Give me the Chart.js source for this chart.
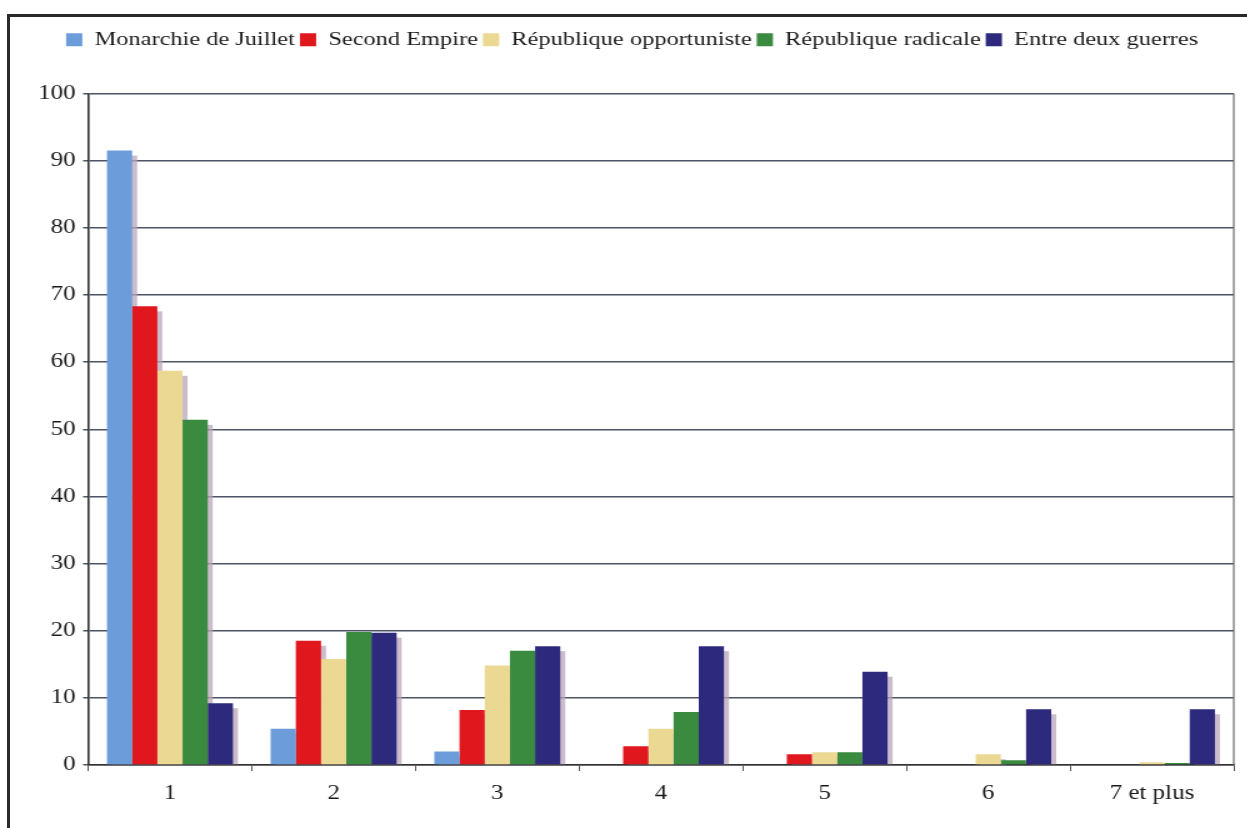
<!DOCTYPE html>
<html>
<head>
<meta charset="utf-8">
<script src="https://cdn.jsdelivr.net/npm/chart.js@4"></script>
<style>
  body { margin: 0; background: #fff; overflow: hidden; }
  #frame { position: absolute; left: 7px; top: 14px; width: 1300px; height: 900px; border: 3px solid #2a2a2a; }
  /* le document source est un scan légèrement étiré en largeur */
  #wrap { position: absolute; left: 0; top: 0; transform: scaleX(1.25); transform-origin: 0 0; }
</style>
</head>
<body>
<div id="frame"></div>
<div id="wrap"><canvas id="chart" width="998" height="828"></canvas></div>
<script>
// Catégories (nombre de ...) et séries
const categories = ['1', '2', '3', '4', '5', '6', '7 et plus'];
const seriesNames = ['Monarchie de Juillet', 'Second Empire', 'République opportuniste', 'République radicale', 'Entre deux guerres'];
const monarchie = [91.5, 5.4, 2.0, 0.1, 0, 0, 0];
const secondEmpire = [68.3, 18.5, 8.2, 2.8, 1.6, 0, 0];
const repOpportuniste = [58.7, 15.8, 14.8, 5.4, 1.9, 1.6, 0.4];
const repRadicale = [51.4, 19.8, 17.0, 7.9, 1.9, 0.7, 0.3];
const entreDeuxGuerres = [9.2, 19.7, 17.7, 17.7, 13.9, 8.3, 8.3];
const yTicks = [0, 10, 20, 30, 40, 50, 60, 70, 80, 90, 100];

const colors = ['#6c9dda', '#e0171d', '#ebd993', '#3a8a3f', '#2d2a7e'];
const allSeries = [monarchie, secondEmpire, repOpportuniste, repRadicale, entreDeuxGuerres];

// ombre portée derrière chaque barre (comme dans Excel)
const shadowPlugin = {
    id: 'barShadow',
    beforeInit(chart) {
        // espace supplémentaire sous la légende
        const fit = chart.legend.fit;
        chart.legend.fit = function () {
            fit.bind(chart.legend)();
            this.height += 34;
        };
    },
    beforeDatasetsDraw(chart) {
        const ctx = chart.ctx;
        ctx.save();
        ctx.fillStyle = 'rgba(185, 165, 185, 0.75)';
        chart.data.datasets.forEach((ds, i) => {
            const meta = chart.getDatasetMeta(i);
            meta.data.forEach((bar, j) => {
                if (!ds.data[j]) return;
                const p = bar.getProps(['x', 'y', 'base', 'width'], true);
                const h = p.base - p.y - 5;
                if (h > 0) ctx.fillRect(p.x - p.width / 2 + 4, p.y + 5, p.width, h);
            });
        });
        ctx.restore();
    },
    afterDraw(chart) {
        // bord droit de la zone de tracé
        const a = chart.chartArea;
        const ctx = chart.ctx;
        ctx.save();
        ctx.strokeStyle = '#6a6a6a';
        ctx.lineWidth = 1.2;
        ctx.beginPath();
        ctx.moveTo(a.right, a.top);
        ctx.lineTo(a.right, a.bottom);
        ctx.stroke();
        ctx.restore();
    }
};

const serif = "'Liberation Serif', 'DejaVu Serif', serif";

new Chart(document.getElementById('chart').getContext('2d'), {
    type: 'bar',
    data: {
        labels: categories,
        datasets: allSeries.map((d, i) => ({
            label: seriesNames[i],
            data: d,
            backgroundColor: colors[i],
            borderWidth: 0,
            categoryPercentage: 0.77,
            barPercentage: 1.0
        }))
    },
    options: {
        responsive: false,
        animation: false,
        layout: { padding: { left: 24.5, right: 11, top: 26, bottom: 11 } },
        plugins: {
            legend: {
                position: 'top',
                labels: {
                    font: { family: serif, size: 19.5 },
                    color: '#1a1a1a',
                    boxWidth: 13,
                    boxHeight: 13,
                    padding: 4
                }
            },
            tooltip: { enabled: false }
        },
        scales: {
            x: {
                grid: { drawOnChartArea: false, drawTicks: true, tickLength: 6, color: '#555', lineWidth: 1 },
                border: { color: '#333', width: 1.6 },
                ticks: { font: { family: serif, size: 20 }, color: '#1a1a1a', padding: 11 }
            },
            y: {
                min: 0,
                max: 100,
                afterBuildTicks(axis) { axis.ticks = yTicks.map(v => ({ value: v })); },
                grid: { color: '#4b5365', lineWidth: 1.5, tickLength: 4 },
                border: { color: '#333', width: 1.6 },
                ticks: { font: { family: serif, size: 20 }, color: '#1a1a1a', padding: 6 }
            }
        }
    },
    plugins: [shadowPlugin]
});
</script>
</body>
</html>
